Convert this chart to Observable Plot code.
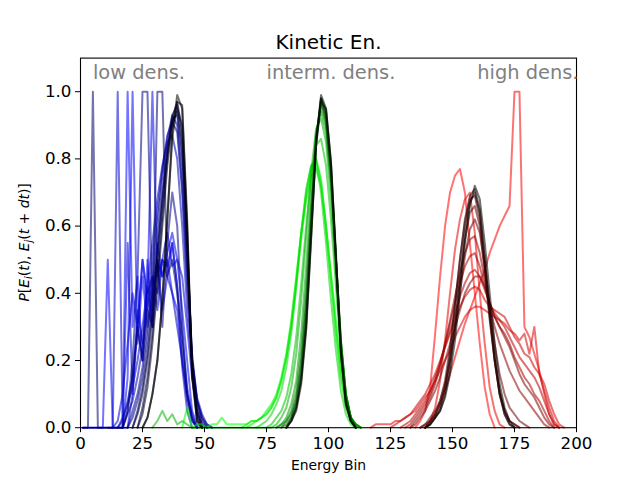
<!DOCTYPE html>
<html><head><meta charset="utf-8">
<script src="https://cdn.jsdelivr.net/npm/d3@7"></script>
<script src="https://cdn.jsdelivr.net/npm/@observablehq/plot@0.6"></script>
<style>body{margin:0;background:#fff}</style>
</head><body><div id="chart"></div>
<script>
// ---- data (energy bins sampled every 2 bins, starting at the given bin) ----
const binStep = 2;
const titleText = "Kinetic En.";
const xLabelText = "Energy Bin";
const xTicks = [0, 25, 50, 75, 100, 125, 150, 175, 200];
const yTicks = [0, 0.2, 0.4, 0.6, 0.8, 1.0];
const annLabels = ["low dens.", "interm. dens.", "high dens."];
const annX = [5, 75, 160];
const annY = [1.055, 1.055, 1.055];

const lowStart = [1, 1, 17, 15, 13, 11, 15, 17, 19, 17, 19, 1, 21, 21, 23, 23, 25, 25];
const lowVals = [
  [0,0,0,0,0,0.5,0,0,0,1.0,0.3,0.45,0.2,0.5,0.3,0.55,0.45,0.5,0.4,0.35,0.2,0.1,0.03,0],
  [0,0,0,0,0,0,0,0,0,0.15,1.0,0.25,0.45,0.3,0.4,0.5,0.35,0.45,0.55,0.42,0.28,0.12,0.04,0],
  [0,0,0.1,0.3,0.5,0.4,1.0,0.45,0.5,0.58,0.48,0.5,0.35,0.2,0.05,0.01,0],
  [0,0.02,0.08,0.15,0.3,0.2,0.42,0.3,0.5,0.45,0.52,0.58,0.5,0.45,0.3,0.15,0.05,0.01,0],
  [0,0.02,0.1,0.25,0.4,0.3,0.5,0.35,0.45,0.4,0.5,0.48,0.55,0.42,0.18,0.05,0],
  [0,0,1.0,0,0.55,0.1,0.35,0.25,0.4,0.45,0.35,0.5,0.45,0.4,0.3,0.2,0.08,0.02,0],
  [0,0.03,0.07,0.12,0.2,0.3,0.42,0.55,0.68,0.78,0.85,0.87,0.8,0.6,0.35,0.18,0.08,0.03,0.01,0],
  [0,0.04,0.08,0.15,0.24,0.36,0.5,0.64,0.77,0.87,0.91,0.88,0.7,0.42,0.2,0.09,0.04,0.01,0],
  [0,0.05,0.1,0.18,0.3,0.44,0.6,0.75,0.86,0.93,0.9,0.72,0.45,0.2,0.08,0.03,0],
  [0,0.05,0.2,0.45,1.0,1.0,0.35,0.5,0.3,0.55,0.7,0.6,0.3,0.1,0.02,0],
  [0,0.03,0.08,0.15,0.26,0.4,0.55,0.7,0.83,0.92,0.93,0.78,0.5,0.22,0.08,0.02,0],
  [0,0,1.0,0,0,0,0,0,0,0.05,0.15,0.3,0.2,0.35,0.3,1.0,1.0,0.45,0.5,0.4,0.25,0.1,0.03,0],
  [0,0.05,0.12,0.22,0.36,0.52,0.68,0.82,0.91,0.94,0.82,0.52,0.2,0.06,0.01,0],
  [0,0.04,0.1,0.2,0.33,0.5,0.67,0.82,0.93,0.96,0.85,0.55,0.2,0.05,0],
  [0,0.06,0.15,0.28,0.45,0.63,0.8,0.92,0.97,0.88,0.55,0.18,0.04,0],
  [0,0.04,0.12,0.25,0.42,0.6,0.78,0.9,0.95,0.9,0.58,0.16,0.03,0],
  [0,0.03,0.1,0.2,0.38,0.62,0.86,0.97,0.96,0.62,0.16,0.02,0],
  [0,0.03,0.1,0.2,0.38,0.62,0.88,0.99,0.95,0.6,0.15,0.02,0]
];

const midStart = [41, 65, 67, 71, 75, 29, 79, 79, 81, 81, 83, 83, 83, 83];
const midVals = [
  [0,0.06,0,0.01,0.01,0,0.01,0.01,0.03,0.01,0.01,0.01,0.01,0.01,0.02,0.02,0.03,0.04,0.06,0.09,0.14,0.21,0.3,0.42,0.56,0.68,0.77,0.8,0.74,0.6,0.45,0.3,0.16,0.07,0.02,0],
  [0,0.01,0.02,0.02,0.03,0.05,0.07,0.1,0.15,0.22,0.32,0.45,0.58,0.68,0.75,0.77,0.72,0.6,0.46,0.32,0.19,0.09,0.03,0],
  [0,0.01,0.02,0.03,0.04,0.06,0.09,0.14,0.21,0.31,0.44,0.58,0.7,0.78,0.8,0.73,0.6,0.44,0.28,0.15,0.06,0.02,0],
  [0,0.01,0.02,0.04,0.07,0.11,0.18,0.28,0.42,0.58,0.71,0.78,0.79,0.7,0.55,0.38,0.23,0.11,0.04,0.01,0],
  [0,0.01,0.03,0.05,0.09,0.16,0.27,0.43,0.6,0.75,0.84,0.86,0.78,0.62,0.42,0.22,0.09,0.03,0.01,0],
  [0,0.02,0.05,0.02,0.04,0.01,0.02,0.01,0,0,0,0,0,0,0,0,0,0,0,0,0,0,0,0,0,0.01,0.03,0.06,0.12,0.22,0.38,0.57,0.76,0.89,0.92,0.85,0.68,0.45,0.24,0.1,0.03,0.01,0],
  [0,0.01,0.03,0.07,0.14,0.28,0.48,0.7,0.88,0.94,0.88,0.72,0.48,0.25,0.1,0.03,0.01,0],
  [0,0.01,0.02,0.05,0.11,0.23,0.42,0.66,0.87,0.96,0.9,0.74,0.5,0.26,0.1,0.03,0],
  [0,0.02,0.04,0.09,0.2,0.38,0.63,0.86,0.97,0.91,0.75,0.5,0.26,0.1,0.03,0.01,0],
  [0,0.01,0.03,0.08,0.18,0.36,0.62,0.86,0.98,0.92,0.76,0.5,0.25,0.09,0.03,0],
  [0,0.03,0.07,0.16,0.33,0.6,0.85,0.98,0.93,0.77,0.5,0.24,0.08,0.02,0],
  [0,0.02,0.06,0.15,0.31,0.58,0.84,0.97,0.95,0.79,0.52,0.23,0.08,0.02,0],
  [0,0.02,0.06,0.14,0.3,0.57,0.84,0.98,0.94,0.78,0.5,0.22,0.07,0.02,0],
  [0,0.02,0.05,0.13,0.29,0.56,0.85,0.99,0.95,0.79,0.51,0.22,0.07,0.02,0]
];

const highStart = [135, 139, 139, 117, 125, 129, 131, 133, 133, 137, 137, 139, 139, 139, 139];
const highVals = [
  [0,0.02,0.05,0.12,0.28,0.45,0.6,0.7,0.75,0.77,0.7,0.55,0.4,0.25,0.12,0.04,0],
  [0,0.02,0.04,0.07,0.11,0.16,0.21,0.26,0.31,0.35,0.39,0.43,0.47,0.52,0.56,0.6,0.63,0.66,1.0,1.0,0.3,0.27,0.22,0.17,0.1,0.04,0.01,0],
  [0,0.02,0.06,0.14,0.26,0.4,0.53,0.62,0.68,0.7,0.58,0.4,0.25,0.12,0.05,0.01,0],
  [0,0.01,0.01,0.01,0.01,0.02,0.02,0.03,0.04,0.05,0.07,0.09,0.11,0.14,0.17,0.2,0.23,0.27,0.3,0.33,0.35,0.36,0.36,0.35,0.34,0.33,0.32,0.31,0.29,0.28,0.26,0.28,0.22,0.3,0.16,0.13,0.08,0.04,0.01,0],
  [0,0.01,0.02,0.03,0.04,0.06,0.08,0.1,0.13,0.16,0.2,0.24,0.28,0.32,0.36,0.39,0.41,0.42,0.41,0.38,0.36,0.35,0.34,0.33,0.3,0.27,0.25,0.22,0.21,0.18,0.16,0.11,0.06,0.02,0],
  [0,0.01,0.02,0.04,0.06,0.08,0.11,0.15,0.19,0.24,0.29,0.34,0.39,0.43,0.46,0.47,0.45,0.41,0.37,0.34,0.32,0.3,0.27,0.24,0.21,0.19,0.17,0.15,0.12,0.08,0.04,0.01,0],
  [0,0.01,0.03,0.05,0.07,0.1,0.14,0.19,0.25,0.31,0.37,0.43,0.48,0.51,0.52,0.48,0.42,0.37,0.33,0.3,0.28,0.25,0.21,0.18,0.15,0.13,0.1,0.08,0.05,0.02,0],
  [0,0.02,0.04,0.06,0.09,0.13,0.18,0.25,0.32,0.39,0.46,0.52,0.56,0.57,0.52,0.44,0.36,0.3,0.25,0.21,0.17,0.14,0.11,0.09,0.07,0.05,0.03,0.01,0],
  [0,0.01,0.03,0.05,0.08,0.11,0.15,0.2,0.25,0.3,0.35,0.4,0.43,0.45,0.45,0.42,0.37,0.33,0.3,0.27,0.24,0.2,0.16,0.13,0.11,0.09,0.06,0.03,0.01,0],
  [0,0.01,0.03,0.05,0.08,0.13,0.2,0.29,0.4,0.51,0.59,0.62,0.58,0.48,0.36,0.25,0.16,0.1,0.06,0.04,0.02,0.01,0],
  [0,0.01,0.02,0.04,0.07,0.12,0.2,0.31,0.44,0.56,0.64,0.66,0.6,0.46,0.32,0.2,0.11,0.05,0.02,0.01,0],
  [0,0.02,0.04,0.08,0.14,0.24,0.37,0.5,0.61,0.68,0.69,0.62,0.48,0.33,0.2,0.1,0.05,0.02,0.01,0],
  [0,0.01,0.03,0.06,0.12,0.22,0.36,0.5,0.62,0.69,0.71,0.65,0.5,0.34,0.2,0.1,0.04,0.01,0],
  [0,0.01,0.03,0.05,0.1,0.18,0.3,0.44,0.58,0.67,0.7,0.64,0.5,0.35,0.21,0.1,0.04,0.01,0],
  [0,0.01,0.03,0.05,0.09,0.16,0.26,0.4,0.55,0.66,0.72,0.68,0.55,0.4,0.25,0.13,0.06,0.02,0]
];

// ---- build series: each group fades from its base colour to black ----
function series(starts, vals, base) {
  const n = vals.length;
  const ramp = d3.interpolateRgb(base, "#000000");
  return vals.map((v, i) => ({
    color: ramp(Math.pow(n > 1 ? i / (n - 1) : 1, 1.25)),
    points: v.map((y, k) => ({x: starts[i] + binStep * k, y}))
  }));
}
const allSeries = [
  ...series(lowStart, lowVals, "#0000ff"),
  ...series(midStart, midVals, "#00ff00"),
  ...series(highStart, highVals, "#ff0000")
];

const plot = Plot.plot({
  width: 640, height: 480,
  marginLeft: 80, marginRight: 64, marginTop: 57.6, marginBottom: 52.8,
  style: {fontFamily: "DejaVu Sans", fontSize: "16.7px", background: "white", color: "black", overflow: "visible"},
  x: {domain: [0, 200]},
  y: {domain: [0, 1.1]},
  marks: [
    ...allSeries.map(s => Plot.line(s.points, {x: "x", y: "y", stroke: s.color, strokeOpacity: 0.55, strokeWidth: 2})),
    Plot.frame({stroke: "black", strokeWidth: 1.1}),
    Plot.axisX({ticks: xTicks, tickSize: 5, tickPadding: 4, label: null, tickFormat: d => String(d)}),
    Plot.axisY({ticks: yTicks, tickSize: 5, tickPadding: 4, label: null, tickFormat: d3.format(".1f")}),
    Plot.text(annLabels, {x: (d, i) => annX[i], y: (d, i) => annY[i], text: d => d, textAnchor: "start", fill: "#808080", fontSize: 19.4}),
    Plot.text([titleText], {frameAnchor: "top", lineAnchor: "middle", text: d => d, dy: -16, fontSize: 20}),
    Plot.text([xLabelText], {frameAnchor: "bottom", lineAnchor: "middle", text: d => d, dy: 38, fontSize: 13.9})
  ]
});

// y-axis label with italic letters and subscripts
const yl = d3.select(plot).append("text")
  .attr("transform", "translate(29,242.4) rotate(-90)")
  .attr("text-anchor", "middle")
  .attr("font-size", 13.9)
  .attr("font-family", "DejaVu Sans")
  .attr("fill", "black");
const parts = [
  ["P", "i"], ["[", "n"], ["E", "i"], ["i", "s"], ["(", "n"], ["t", "i"], ["), ", "n"],
  ["E", "i"], ["j", "s"], ["(", "n"], ["t", "i"], [" + ", "n"], ["dt", "i"], [")]", "n"]
];
let shifted = false;
for (const [txt, kind] of parts) {
  const t = yl.append("tspan").text(txt);
  if (kind === "s") { t.attr("font-style", "italic").attr("font-size", 9.7).attr("dy", 3); shifted = true; }
  else {
    if (shifted) { t.attr("dy", -3); shifted = false; }
    if (kind === "i") t.attr("font-style", "italic");
  }
}

document.getElementById("chart").appendChild(plot);
</script>
</body></html>
